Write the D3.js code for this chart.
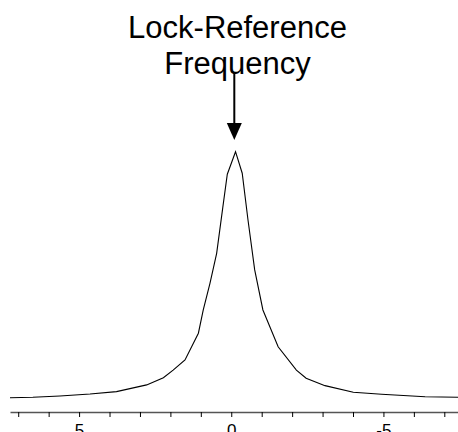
<!DOCTYPE html>
<html lang="en"><head><meta charset="utf-8">
<title>Lock-Reference Frequency</title>
<script src="https://cdn.jsdelivr.net/npm/d3@7"></script>
<style>
  body { margin: 0; background: #fff; }
  text { font-family: "Liberation Sans", Arial, sans-serif; }
</style>
</head>
<body>
<script>
// frequency offset (axis is reversed: positive to the left)
var freq = [7.27, 6.52, 5.63, 4.64, 3.77, 2.78, 2.23, 1.91, 1.52, 1.08, 0.92, 0.70, 0.48, 0.28, 0.13,
            -0.14, -0.36, -0.55, -0.77, -1.04, -1.54, -2.14, -2.46, -3.08, -4.01, -4.94, -6.37, -7.45];
// relative signal
var amp = [0.005, 0.007, 0.012, 0.020, 0.030, 0.057, 0.086, 0.117, 0.158, 0.266, 0.360, 0.468, 0.589, 0.773, 0.909,
           1.000, 0.913, 0.724, 0.522, 0.360, 0.211, 0.117, 0.084, 0.054, 0.027, 0.019, 0.009, 0.007];
var tickValues = [7, 6, 5, 4, 3, 2, 1, 0, -1, -2, -3, -4, -5, -6, -7];
var tickLabels = ["", "", "5", "", "", "", "", "0", "", "", "", "", "-5", "", ""];
var titleLines = ["Lock-Reference", "Frequency"];
var arrowFreq = -0.1;

var width = 458;
var height = 432;

var svg = d3.select("body").append("svg")
            .attr("width", width)
            .attr("height", height);

var x = d3.scaleLinear().domain([7.27, -7.45]).range([10, 458]);
var y = d3.scaleLinear().domain([0, 1]).range([399, 151.7]);

var points = freq.map(function(f, i){ return [f, amp[i]]; });

var line = d3.line()
    .x(function(d){ return x(d[0]); })
    .y(function(d){ return y(d[1]); });

svg.append("path")
    .datum(points)
    .attr("fill", "none")
    .attr("stroke", "black")
    .attr("stroke-width", 1.1)
    .attr("stroke-linejoin", "miter")
    .attr("d", line);

var xAxis = d3.axisBottom(x)
    .tickValues(tickValues)
    .tickSize(5)
    .tickSizeOuter(0)
    .tickFormat(function(d, i){ return tickLabels[i]; });

var gx = svg.append("g")
    .attr("transform", "translate(0,412)")
    .call(xAxis);

gx.select(".domain").attr("stroke", "#555").attr("stroke-width", 1.5);
gx.selectAll(".tick line").attr("stroke", "black");
gx.selectAll(".tick text")
    .attr("fill", "black")
    .attr("font-family", "Liberation Sans, Arial, sans-serif")
    .attr("font-size", 17)
    .attr("dy", null)
    .attr("y", 24);

// annotation
svg.selectAll(".title")
    .data(titleLines)
    .enter()
    .append("text")
    .attr("class", "title")
    .attr("text-anchor", "middle")
    .attr("x", 237.5)
    .attr("y", function(d, i){ return 38 + 36 * i; })
    .attr("font-size", 31)
    .attr("fill", "black")
    .text(function(d){ return d; });

var ax = x(arrowFreq);
svg.append("line")
    .attr("x1", ax).attr("x2", ax)
    .attr("y1", 73).attr("y2", 126)
    .attr("stroke", "black")
    .attr("stroke-width", 2);

svg.append("path")
    .attr("d", "M" + (ax - 7.5) + ",123 L" + (ax + 7.5) + ",123 L" + ax + ",140 Z")
    .attr("fill", "black");
</script>
</body></html>
